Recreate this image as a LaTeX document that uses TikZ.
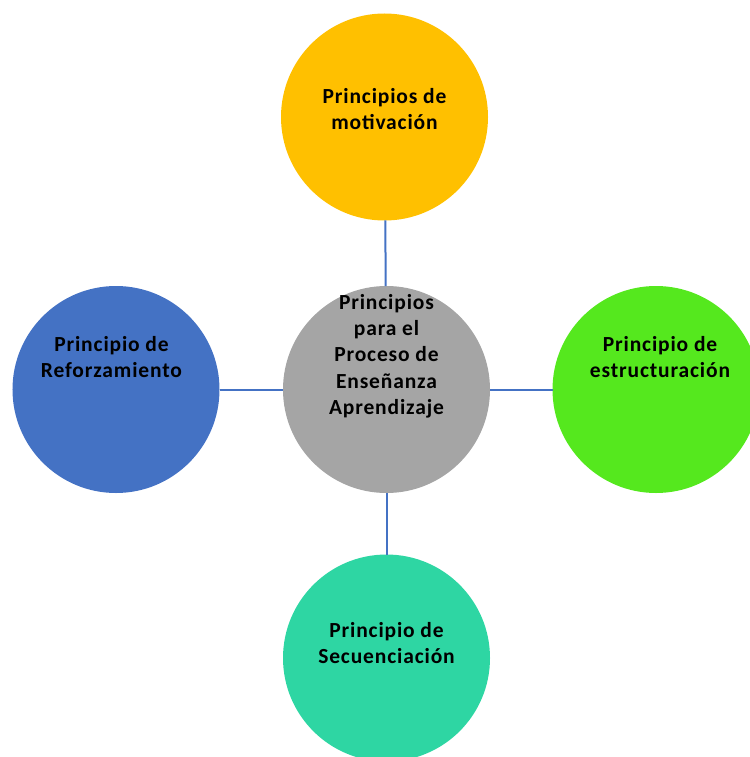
\documentclass[tikz,border=0pt]{standalone}
\usepackage{fontspec}
\setmainfont{Carlito}
\newfontfamily\bubblefont{Carlito}[LetterSpace=4]
\usetikzlibrary{positioning}

\definecolor{motivcol}{HTML}{FFC000}
\definecolor{centrocol}{HTML}{A5A5A5}
\definecolor{reforcol}{HTML}{4472C4}
\definecolor{estrucol}{HTML}{55E81E}
\definecolor{secuecol}{HTML}{2ED6A3}
\definecolor{linkcol}{HTML}{4472C4}

\begin{document}
\begin{tikzpicture}[
	x = 1bp, y = -1bp, % pixel units, y going down
	line width = 2bp % connector thickness
	]
	
	\tikzstyle{every node}=[
	outer sep = 0pt
	]
	\tikzstyle{bubble}=[
	circle,
	draw = none,
	minimum size = 207bp,
	inner sep = 0pt
	]
	\tikzstyle{caption}=[
	align = center,
	inner sep = 0pt,
	text = black,
	font = \bubblefont\fontsize{21.5bp}{25.5bp}\selectfont\bfseries
	]
	
	\useasboundingbox (0,0) rectangle (750,757);
	
	\node[bubble, fill = centrocol] (cen) at (386.5,389.5) {};
	\node[bubble, fill = motivcol] (mot) [above=65.5bp of cen, xshift=-2bp] {};
	\node[bubble, fill = reforcol] (ref) [left=63.5bp of cen] {};
	\node[bubble, fill = estrucol] (est) [right=62.5bp of cen] {};
	\node[bubble, fill = secuecol] (sec) [below=61.5bp of cen] {};
	
	\draw[linkcol] (mot) -- (cen);
	\draw[linkcol] (ref) -- (cen);
	\draw[linkcol] (cen) -- (est);
	\draw[linkcol] (cen) -- (sec);
	
	\node[caption] (tmot) at ([yshift=8bp]mot.center) {Principios de\\motivación};
	\node[caption] (tref) at ([xshift=-4.5bp, yshift=32.5bp]ref.center) {Principio de\\Reforzamiento};
	\node[caption] (test) at ([xshift=4bp, yshift=32.5bp]est.center) {Principio de\\estructuración};
	\node[caption] (tsec) at ([yshift=15bp]sec.center) {Principio de\\Secuenciación};
	\node[caption, font = \bubblefont\fontsize{21.5bp}{26.3bp}\selectfont\bfseries] (tcen) at ([yshift=33.5bp]cen.center) {Principios\\para el\\Proceso de\\Enseñanza\\Aprendizaje};
	
\end{tikzpicture}
\end{document}
